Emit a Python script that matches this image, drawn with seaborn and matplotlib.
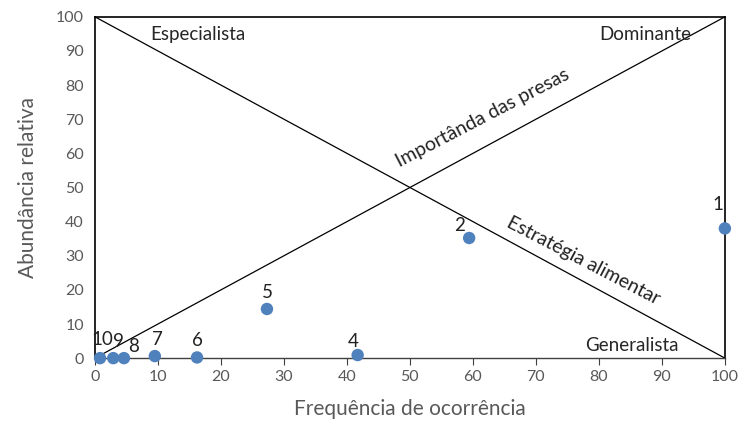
import pandas as pd
import matplotlib.pyplot as plt
import seaborn as sns

# prey items: frequency of occurrence vs relative abundance
labels = ['1', '2', '4', '5', '6', '7', '8', '9', '10']
freq = [100, 59.4, 41.7, 27.3, 16.2, 9.5, 4.6, 2.9, 0.8]
abund = [38, 35.2, 0.9, 14.4, 0.2, 0.6, 0, 0, 0]

# label offsets (points) so the numbers sit like in the original
offsets = {'1': (-5, 11), '2': (-7, 3), '4': (-3, 4), '5': (0, 6), '6': (0, 6),
           '7': (2, 6), '8': (7, 2), '9': (4, 6), '10': (2, 7)}

df = pd.DataFrame({'label': labels, 'freq': freq, 'abund': abund})

sns.set_style('white')
plt.rcParams['font.family'] = ['Lato', 'DejaVu Sans']

fig = plt.figure(figsize=(7.45, 4.32), dpi=100)
ax = fig.add_axes([0.1275, 0.171, 0.8455, 0.79])

# diagonals
ax.plot([0, 100], [100, 0], color='black', lw=0.9, zorder=1)
ax.plot([0, 100], [0, 100], color='black', lw=0.9, zorder=1)

sns.scatterplot(data=df, x='freq', y='abund', ax=ax, color='#4f81bd',
                s=80, edgecolor='none', zorder=3, clip_on=False)

for _, r in df.iterrows():
    dx, dy = offsets[r['label']]
    ax.annotate(r['label'], (r['freq'], r['abund']), xytext=(dx, dy),
                textcoords='offset points', ha='center', va='bottom',
                fontsize=13.5, color='#222222')

ax.text(16.3, 94.7, 'Especialista', ha='center', va='center', fontsize=13.5)
ax.text(87.3, 94.7, 'Dominante', ha='center', va='center', fontsize=13.5)
ax.text(85.2, 3.8, 'Generalista', ha='center', va='center', fontsize=13.5)
ax.text(61.5, 70.5, 'Importânda das presas', ha='center', va='center',
        rotation=27.5, fontsize=14, color='#222222')
ax.text(77.5, 28.5, 'Estratégia alimentar', ha='center', va='center',
        rotation=-27.5, fontsize=14, color='#222222')

ax.set_xlim(0, 100)
ax.set_ylim(0, 100)
ax.set_xticks(range(0, 101, 10))
ax.set_yticks(range(0, 101, 10))
ax.set_xlabel('Frequência de ocorrência', fontsize=15, color='#595959', labelpad=11)
ax.set_ylabel('Abundância relativa', fontsize=15, color='#595959', labelpad=13)

for side in ['top', 'right', 'left']:
    ax.spines[side].set_color('black')
    ax.spines[side].set_linewidth(1.2)
ax.spines['bottom'].set_color('#404040')
ax.spines['bottom'].set_linewidth(1.0)

ax.tick_params(axis='x', colors='#595959', labelsize=11.5, length=5,
               direction='out', bottom=True, color='#404040')
ax.tick_params(axis='y', colors='#595959', labelsize=11.5, length=0, pad=8)

fig.savefig('out.png', dpi=100)
